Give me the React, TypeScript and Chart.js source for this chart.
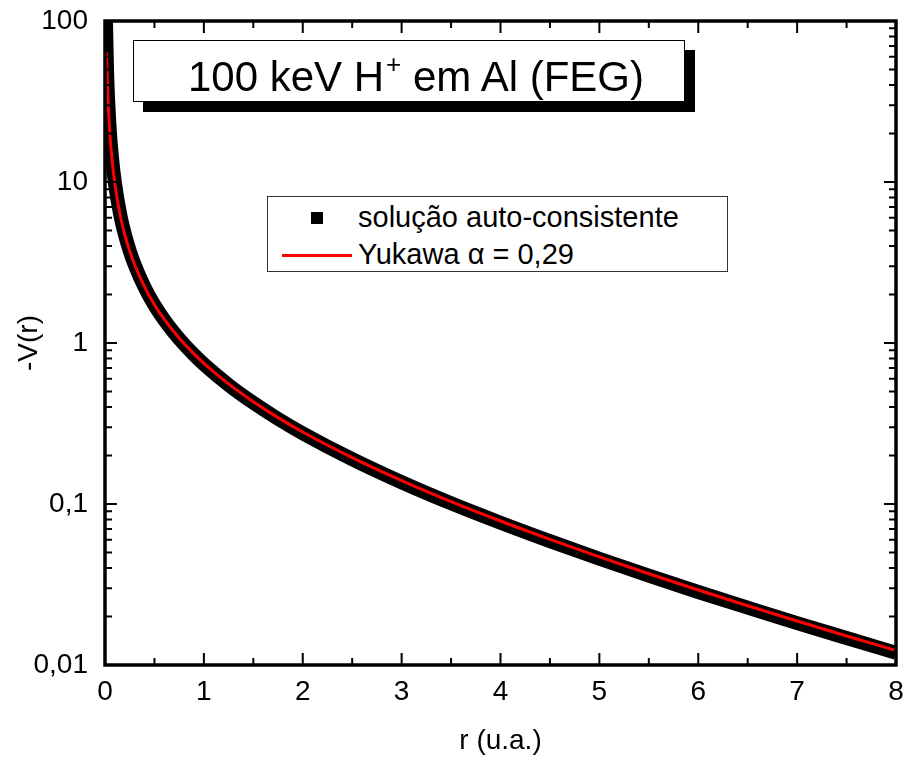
import React, { useEffect, useRef } from "react";
import { Chart, registerables } from "chart.js";

Chart.register(...registerables);

// r (u.a.) sample positions for the self-consistent solution
const rSelf = [0.01, 0.02, 0.03, 0.05, 0.07, 0.1, 0.15, 0.2, 0.25, 0.3, 0.4, 0.5, 0.6, 0.7, 0.8, 0.9, 1, 1.25, 1.5, 1.75, 2, 2.5, 3, 3.5, 4, 4.5, 5, 5.5, 6, 6.5, 7, 7.5, 8];
// -V(r), self-consistent solution
const selfConsistent = [100, 51, 34, 20.2, 14.3, 9.9, 6.45, 4.75, 3.73, 3.06, 2.22, 1.72, 1.39, 1.155, 0.98, 0.845, 0.738, 0.549, 0.425, 0.338, 0.275, 0.19, 0.1365, 0.101, 0.0765, 0.0588, 0.0457, 0.0359, 0.0284, 0.0227, 0.0182, 0.0147, 0.0119];

// r (u.a.) sample positions for the Yukawa fit
const rYukawa = [0.0155, 0.02, 0.03, 0.05, 0.07, 0.1, 0.15, 0.2, 0.25, 0.3, 0.4, 0.5, 0.6, 0.7, 0.8, 0.9, 1, 1.25, 1.5, 1.75, 2, 2.5, 3, 3.5, 4, 4.5, 5, 5.5, 6, 6.5, 7, 7.5, 8];
// -V(r), Yukawa alpha = 0,29
const yukawa = [64, 49.7, 33.0, 19.7, 14.0, 9.71, 6.38, 4.72, 3.72, 3.06, 2.23, 1.73, 1.40, 1.166, 0.991, 0.856, 0.748, 0.557, 0.432, 0.344, 0.280, 0.194, 0.1397, 0.1035, 0.0784, 0.0603, 0.0469, 0.0369, 0.02925, 0.02335, 0.01876, 0.01515, 0.0123];

const xTickValues = [0, 1, 2, 3, 4, 5, 6, 7, 8];
const xTickLabels = ["0", "1", "2", "3", "4", "5", "6", "7", "8"];
const yTickValues = [0.01, 0.1, 1, 10, 100];
const yTickLabels = ["0,01", "0,1", "1", "10", "100"];

const FONT = "'Liberation Sans', Arial, Helvetica, sans-serif";

const framePlugin = {
  id: "originFrame",
  afterDatasetsDraw(chart: any) {
    const { ctx, chartArea } = chart;
    const { left, right, top, bottom } = chartArea;
    const xs = chart.scales.x;
    const ys = chart.scales.y;
    ctx.save();
    ctx.strokeStyle = "#000";
    ctx.lineWidth = 2;
    ctx.lineCap = "butt";
    ctx.beginPath();
    for (let i = 0; i < xTickValues.length; i++) {
      const v = xTickValues[i];
      const px = xs.getPixelForValue(v);
      ctx.moveTo(px, bottom);
      ctx.lineTo(px, bottom - 12);
      ctx.moveTo(px, top);
      ctx.lineTo(px, top + 12);
      if (i < xTickValues.length - 1) {
        const mv = (v + xTickValues[i + 1]) / 2;
        const mp = xs.getPixelForValue(mv);
        ctx.moveTo(mp, bottom);
        ctx.lineTo(mp, bottom - 7);
        ctx.moveTo(mp, top);
        ctx.lineTo(mp, top + 7);
      }
    }
    for (let i = 0; i < yTickValues.length; i++) {
      const v = yTickValues[i];
      const py = ys.getPixelForValue(v);
      ctx.moveTo(left, py);
      ctx.lineTo(left + 12, py);
      ctx.moveTo(right, py);
      ctx.lineTo(right - 12, py);
      if (i < yTickValues.length - 1) {
        for (let k = 2; k <= 9; k++) {
          const mp = ys.getPixelForValue(v * k);
          ctx.moveTo(left, mp);
          ctx.lineTo(left + 7, mp);
          ctx.moveTo(right, mp);
          ctx.lineTo(right - 7, mp);
        }
      }
    }
    ctx.stroke();
    ctx.lineWidth = 3.5;
    ctx.strokeRect(left, top, right - left, bottom - top);
    ctx.restore();
  },
};

export default function App() {
  const canvasRef = useRef<HTMLCanvasElement | null>(null);

  useEffect(() => {
    if (!canvasRef.current) return;
    Chart.defaults.font.family = FONT;
    Chart.defaults.color = "#000";
    const chart = new Chart(canvasRef.current, {
      type: "line",
      data: {
        datasets: [
          {
            label: "Yukawa α = 0,29",
            data: rYukawa.map((r, i) => ({ x: r, y: yukawa[i] })),
            borderColor: "#ff0000",
            borderWidth: 3,
            pointRadius: 0,
            cubicInterpolationMode: "monotone",
            fill: false,
            order: 0,
          },
          {
            label: "solução auto-consistente",
            data: rSelf.map((r, i) => ({ x: r, y: selfConsistent[i] })),
            borderColor: "#000",
            backgroundColor: "#000",
            borderWidth: 14,
            pointRadius: 0,
            pointStyle: "rect",
            cubicInterpolationMode: "monotone",
            fill: false,
            order: 1,
          },
        ],
      },
      options: {
        responsive: false,
        animation: false,
        layout: { padding: { top: 21, right: 8, left: 0, bottom: 0 } },
        plugins: {
          legend: { display: false },
          tooltip: { enabled: false },
          title: { display: false },
        },
        scales: {
          x: {
            type: "linear",
            min: 0,
            max: 8,
            grid: { display: false, drawTicks: false },
            border: { display: false },
            afterBuildTicks: (scale: any) => {
              scale.ticks = xTickValues.map((v) => ({ value: v }));
            },
            ticks: {
              font: { size: 28 },
              color: "#000",
              padding: 10,
              maxRotation: 0,
              autoSkip: false,
              callback: (v: any) => {
                const i = xTickValues.indexOf(Number(v));
                return i >= 0 ? xTickLabels[i] : "";
              },
            },
            title: {
              display: true,
              text: "r (u.a.)",
              font: { size: 28 },
              color: "#000",
              padding: { top: 0, bottom: 2 },
            },
            afterFit: (scale: any) => {
              scale.height = 95;
              scale.paddingLeft = 0;
              scale.paddingRight = 0;
            },
          },
          y: {
            type: "logarithmic",
            min: 0.01,
            max: 100,
            grid: { display: false, drawTicks: false },
            border: { display: false },
            afterBuildTicks: (scale: any) => {
              scale.ticks = yTickValues.map((v) => ({ value: v }));
            },
            ticks: {
              font: { size: 28 },
              color: "#000",
              padding: 17,
              autoSkip: false,
              callback: (v: any) => {
                const i = yTickValues.findIndex((t) => Math.abs(t - Number(v)) < t * 1e-6);
                return i >= 0 ? yTickLabels[i] : "";
              },
            },
            title: {
              display: true,
              text: "-V(r)",
              font: { size: 28 },
              color: "#000",
              padding: { top: 12, bottom: 0 },
            },
            afterFit: (scale: any) => {
              scale.width = 105;
              scale.paddingTop = 0;
              scale.paddingBottom = 0;
            },
          },
        },
      },
      plugins: [framePlugin],
    });
    return () => chart.destroy();
  }, []);

  return (
    <div style={{ position: "absolute", left: 0, top: 0, width: 904, height: 760, background: "#fff", fontFamily: FONT }}>
      <canvas ref={canvasRef} width={904} height={760} style={{ display: "block" }} />
      <div
        style={{
          position: "absolute",
          left: 133,
          top: 40,
          width: 552,
          height: 62,
          boxSizing: "border-box",
          border: "1px solid #000",
          background: "#fff",
          boxShadow: "10px 10px 0 #000",
        }}
      >
        <div
          style={{
            position: "absolute",
            left: 0,
            right: 0,
            top: 15,
            paddingLeft: 14,
            textAlign: "center",
            fontSize: 42,
            lineHeight: "42px",
            color: "#000",
            whiteSpace: "nowrap",
          }}
        >
          100 keV H
          <span style={{ fontSize: 26, position: "relative", top: -18, marginLeft: 2 }}>+</span> em Al (FEG)
        </div>
      </div>
      <div
        style={{
          position: "absolute",
          left: 267,
          top: 196,
          width: 461,
          height: 76,
          boxSizing: "border-box",
          border: "1px solid #333",
          background: "#fff",
        }}
      />
      <div style={{ position: "absolute", left: 311, top: 212, width: 12, height: 12, background: "#000" }} />
      <div style={{ position: "absolute", left: 282, top: 254, width: 70, height: 3, background: "#ff0000" }} />
      <div style={{ position: "absolute", left: 358, top: 203, fontSize: 29, lineHeight: "29px", whiteSpace: "nowrap", color: "#000" }}>
        solução auto-consistente
      </div>
      <div style={{ position: "absolute", left: 358, top: 240, fontSize: 29, lineHeight: "29px", whiteSpace: "nowrap", color: "#000" }}>
        Yukawa α = 0,29
      </div>
    </div>
  );
}
